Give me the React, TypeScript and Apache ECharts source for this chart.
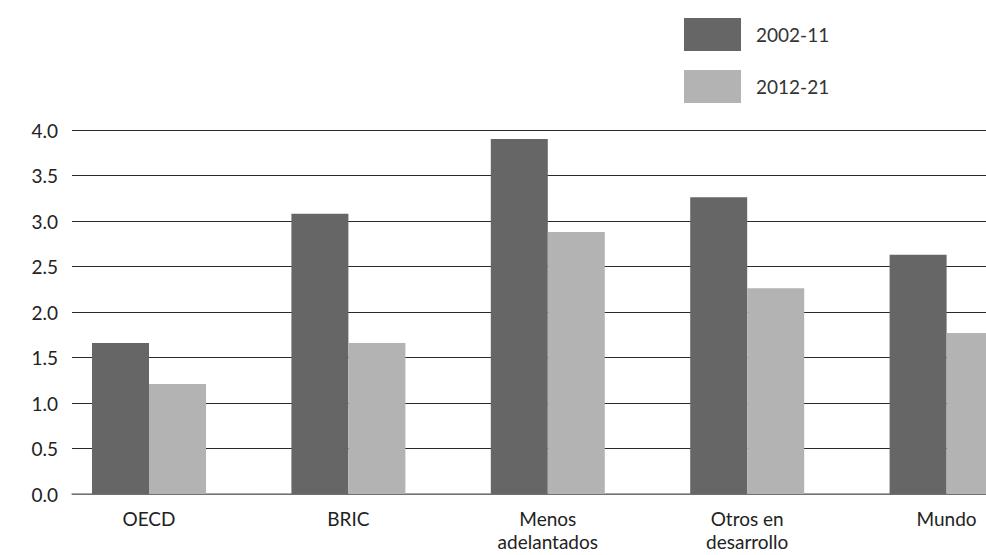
import React, { useEffect, useRef } from "react";
import * as echarts from "echarts";

const categories = ["OECD", "BRIC", "Menos\nadelantados", "Otros en\ndesarrollo", "Mundo"];
const seriesNames = ["2002-11", "2012-21"];
const values2002 = [1.66, 3.08, 3.9, 3.26, 2.63];
const values2012 = [1.21, 1.66, 2.88, 2.26, 1.77];
const yTicks = { min: 0, max: 4, interval: 0.5 };

const DARK = "#666666";
const LIGHT = "#b3b3b3";
const FONT = "Lato";

export default function App() {
  const ref = useRef<HTMLDivElement>(null);

  useEffect(() => {
    if (!ref.current) return;
    const chart = echarts.init(ref.current, undefined, { renderer: "svg" });
    chart.setOption({
      animation: false,
      textStyle: { fontFamily: FONT },
      legend: {
        orient: "vertical",
        left: 679,
        top: 13,
        itemWidth: 57,
        itemHeight: 33,
        itemGap: 19,
        icon: "rect",
        data: seriesNames,
        textStyle: {
          fontFamily: FONT,
          fontSize: 19,
          color: "#333",
          padding: [0, 0, 0, 10],
        },
      },
      grid: [
        // bar plot area, runs past the visible right edge
        { left: 49.3, width: 997, top: 130, height: 364, outerBoundsMode: "none" },
        // gridline area
        { left: 72, width: 914, top: 130, height: 364, outerBoundsMode: "none" },
      ],
      xAxis: [
        {
          type: "category",
          gridIndex: 0,
          data: categories,
          axisLine: { show: false },
          axisTick: { show: false },
          axisLabel: {
            fontFamily: FONT,
            fontSize: 19,
            color: "#222",
            margin: 13,
            lineHeight: 23,
          },
        },
        {
          type: "value",
          gridIndex: 1,
          min: 0,
          max: 1,
          axisLine: { show: true, lineStyle: { color: "#8a8a8a", width: 1.5 } },
          axisTick: { show: false },
          axisLabel: { show: false },
          splitLine: { show: false },
        },
      ],
      yAxis: [
        {
          type: "value",
          gridIndex: 0,
          min: yTicks.min,
          max: yTicks.max,
          interval: yTicks.interval,
          show: false,
        },
        {
          type: "value",
          gridIndex: 1,
          min: yTicks.min,
          max: yTicks.max,
          interval: yTicks.interval,
          axisLine: { show: false },
          axisTick: { show: false },
          axisLabel: {
            fontFamily: FONT,
            fontSize: 19,
            color: "#222",
            margin: 14,
            padding: [0, 0, 7, 0],
            formatter: (v: number) => v.toFixed(1),
          },
          splitLine: { show: true, lineStyle: { color: "#2a2a2a", width: 1 } },
        },
      ],
      series: [
        {
          name: seriesNames[0],
          type: "bar",
          xAxisIndex: 0,
          yAxisIndex: 0,
          data: values2002,
          barWidth: 57,
          barGap: "0%",
          itemStyle: { color: DARK },
          z: 3,
        },
        {
          name: seriesNames[1],
          type: "bar",
          xAxisIndex: 0,
          yAxisIndex: 0,
          data: values2012,
          barWidth: 57,
          barGap: "0%",
          itemStyle: { color: LIGHT },
          z: 3,
        },
      ],
    });
    return () => chart.dispose();
  }, []);

  return (
    <div
      style={{
        position: "fixed",
        left: 0,
        top: 0,
        width: 986,
        height: 555,
        overflow: "hidden",
        background: "#fff",
      }}
    >
      <div ref={ref} style={{ width: 1100, height: 555 }} />
    </div>
  );
}
